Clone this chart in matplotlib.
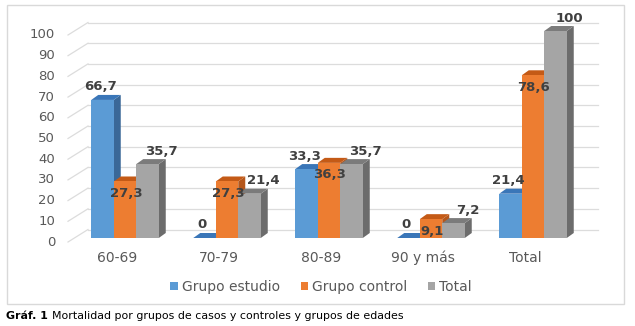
import matplotlib
matplotlib.use('Agg')
import matplotlib.pyplot as plt
from matplotlib.patches import Polygon, Rectangle, Patch

# ---------------- data ----------------
categories = ['60-69', '70-79', '80-89', '90 y más', 'Total']
grupo_estudio = [66.7, 0, 33.3, 0, 21.4]
grupo_control = [27.3, 27.3, 36.3, 9.1, 78.6]
total = [35.7, 21.4, 35.7, 7.2, 100]
series_names = ['Grupo estudio', 'Grupo control', 'Total']
y_ticks = [0, 10, 20, 30, 40, 50, 60, 70, 80, 90, 100]

series = [grupo_estudio, grupo_control, total]
front_colors = ['#5B9BD5', '#ED7D31', '#A5A5A5']
top_colors = ['#3A76B8', '#C45A16', '#7B7B7B']
side_colors = ['#3A6898', '#B5561A', '#6C6C6C']
label_offsets = [(-2, 13), (1, -12), (14, 13)]  # pixels, per series

W, H = 635, 326
fig = plt.figure(figsize=(W / 100, H / 100), dpi=100)

# axes box in pixels
ax_l, ax_r, ax_t, ax_b = 60, 610, 10, 260
ax = fig.add_axes([ax_l / W, 1 - ax_b / H, (ax_r - ax_l) / W, (ax_b - ax_t) / H])
px_x = 102.0   # pixels per category
px_v = 2.07    # pixels per value unit
c0 = 125.0     # pixel x of first category centre
v0 = 238.0     # pixel y of value 0 (bar front)
ax.set_xlim((ax_l - c0) / px_x, (ax_r - c0) / px_x)
ax.set_ylim((v0 - ax_b) / px_v, (v0 - ax_t) / px_v)
ax.axis('off')

def xd(px):
    return (px - c0) / px_x

grid_col = '#DCDCDC'
back_raise = 8.5 / px_v
front_drop = 12.5 / px_v
for v in y_ticks:
    yb = v + back_raise
    yf = yb - front_drop
    ax.plot([xd(88), xd(598)], [yb, yb], color=grid_col, lw=0.9, zorder=1)
    ax.plot([xd(68), xd(88)], [yf, yb], color=grid_col, lw=0.9, zorder=1)
    ax.text(xd(55), yf, str(v), ha='right', va='center', fontsize=9.5,
            color='#595959', clip_on=False)

bw = 22.5 / px_x
dxu = 7.0 / px_x
dyu = 5.0 / px_v

for i, cat in enumerate(categories):
    for j, vals in enumerate(series):
        v = vals[i]
        xc = i + (j - 1) * bw
        xl, xr = xc - bw / 2, xc + bw / 2
        z = 3 + j
        ax.add_patch(Polygon([(xr, 0), (xr + dxu, dyu), (xr + dxu, v + dyu), (xr, v)],
                             closed=True, facecolor=side_colors[j], edgecolor='none', zorder=z))
        ax.add_patch(Polygon([(xl, v), (xr, v), (xr + dxu, v + dyu), (xl + dxu, v + dyu)],
                             closed=True, facecolor=top_colors[j], edgecolor='none', zorder=z))
        ax.bar(xc, v, width=bw, color=front_colors[j], zorder=z, linewidth=0)
        lab = ('%g' % v).replace('.', ',')
        ox, oy = label_offsets[j]
        ax.annotate(lab, xy=(xc, v), xytext=(ox, oy), textcoords='offset pixels',
                    ha='center', va='center', fontsize=9.5, fontweight='bold',
                    color='#404040', zorder=10)
    ax.text(i - 8 / px_x, (v0 - 258) / px_v, cat, ha='center', va='center',
            fontsize=10, color='#595959', clip_on=False)

# legend
handles = [Patch(facecolor=c, edgecolor='none') for c in front_colors]
fig.legend(handles, series_names, loc='center', bbox_to_anchor=(321 / W, 1 - 287 / H),
           ncol=3, frameon=False, fontsize=10, labelcolor='#595959',
           handlelength=0.55, handleheight=0.55, handletextpad=0.25, columnspacing=1.5,
           borderaxespad=0, borderpad=0)

# frame
fig.add_artist(Rectangle((6.5 / W, 1 - 304 / H), 617 / W, 299 / H, transform=fig.transFigure,
                         facecolor='none', edgecolor='#D9D9D9', lw=1.0))

# caption
t1 = fig.text(6 / W, 1 - 316 / H, 'Gráf. 1', fontsize=7.9, fontweight='bold',
              va='center', ha='left', color='black')
fig.canvas.draw()
bb = t1.get_window_extent(fig.canvas.get_renderer())
fig.text((bb.x1 + 4) / W, 1 - 316 / H, 'Mortalidad por grupos de casos y controles y grupos de edades',
         fontsize=7.9, va='center', ha='left', color='black')

fig.savefig('out.png', dpi=100)
